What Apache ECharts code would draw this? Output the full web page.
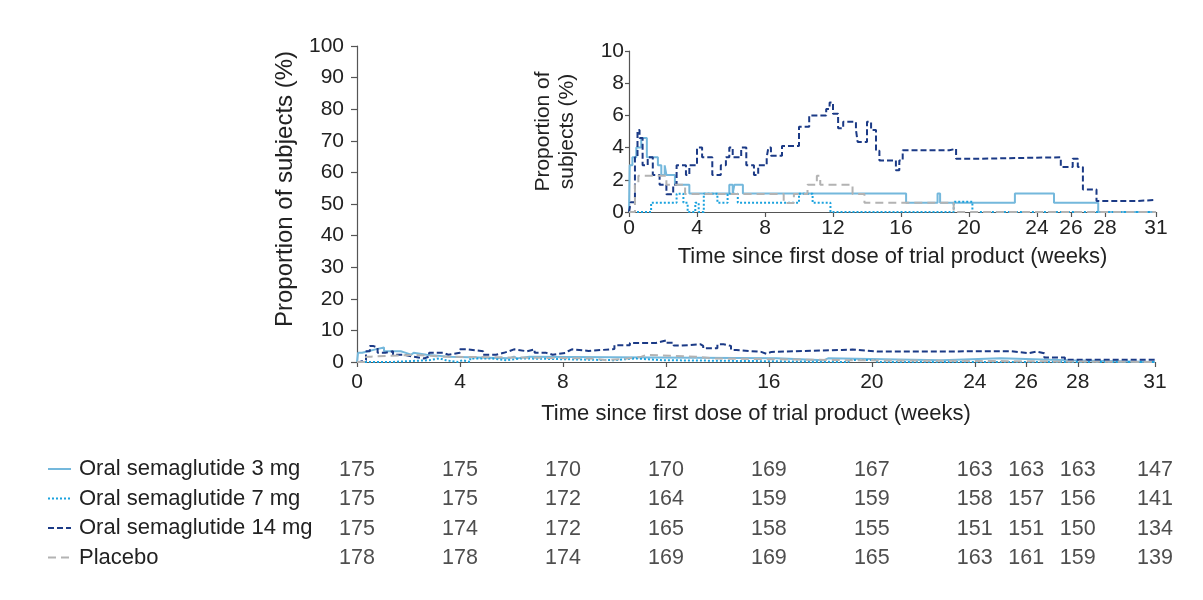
<!DOCTYPE html>
<html>
<head>
<meta charset="utf-8">
<script src="https://cdn.jsdelivr.net/npm/echarts@6/dist/echarts.min.js"></script>
<style>
html,body{margin:0;padding:0;background:#fff;}
#chart{width:1203px;height:600px;}
</style>
</head>
<body>
<div id="chart"></div>
<script>
// ---------- data ----------
const groupNames = ['Oral semaglutide 3 mg', 'Oral semaglutide 7 mg', 'Oral semaglutide 14 mg', 'Placebo'];
const xTicks = [0, 4, 8, 12, 16, 20, 24, 26, 28, 31];

// numbers at risk at each x tick
const atRisk3mg  = [175, 175, 170, 170, 169, 167, 163, 163, 163, 147];
const atRisk7mg  = [175, 175, 172, 164, 159, 159, 158, 157, 156, 141];
const atRisk14mg = [175, 174, 172, 165, 158, 155, 151, 151, 150, 134];
const atRiskPbo  = [178, 178, 174, 169, 169, 165, 163, 161, 159, 139];

// step curves: week at which a level starts, and the proportion (%)
const sema3Weeks = [0, 0.04, 0.2, 0.43, 0.72, 1.05, 1.7, 1.9, 2.1, 2.2, 2.7, 3.55, 5.9, 6.1, 6.2, 6.7, 16.3, 18.15, 18.3, 22.7, 25.0, 27.6, 31];
const sema3Pct   = [0, 2.9, 3.4, 4.0, 4.6, 3.4, 2.9, 2.3, 2.9, 2.3, 1.7, 1.15, 1.7, 1.15, 1.7, 1.15, 0.57, 1.15, 0.57, 1.15, 0.57, 0, 0];

const sema7Weeks = [0, 1.3, 2.8, 3.2, 3.45, 3.9, 4.1, 4.4, 5.2, 5.8, 6.4, 10.0, 10.8, 11.85, 19.1, 20.2, 31];
const sema7Pct   = [0, 0.57, 1.14, 0.57, 0, 0.57, 0, 1.14, 0.57, 1.14, 0.57, 1.14, 0.57, 0, 0.64, 0, 0];

const sema14Weeks = [0, 0.1, 0.35, 0.5, 0.62, 0.8, 1.1, 1.4, 1.8, 2.2, 2.6, 2.8, 3.35, 3.55, 4.0, 4.3, 4.9, 5.4, 5.7, 5.9, 6.1, 6.6, 6.9, 7.35, 7.6, 8.1, 8.2, 8.35, 9.0, 10.0, 10.6, 11.6, 11.8, 12.0, 12.3, 12.6, 13.35, 13.45, 14.0, 14.24, 14.53, 14.73, 15.7, 15.9, 16.1, 18.84, 19.24, 20.2, 25.4, 26.1, 26.4, 26.7, 27.5, 29.8, 31];
const sema14Pct   = [0, 0.6, 3.4, 5.1, 4.6, 2.9, 3.4, 2.3, 1.7, 1.1, 1.7, 2.9, 2.3, 2.9, 4.0, 3.4, 2.3, 2.9, 3.4, 4.0, 3.4, 4.0, 2.9, 2.3, 2.9, 3.4, 4.0, 3.5, 4.1, 5.3, 6.0, 6.4, 6.8, 6.1, 5.2, 5.6, 5.1, 4.35, 5.6, 5.1, 3.8, 3.2, 2.6, 3.2, 3.83, 3.93, 3.3, 3.4, 2.8, 3.3, 2.8, 1.4, 0.68, 0.75, 0.75];

const pboWeeks = [0, 0.35, 0.55, 2.2, 3.3, 9.1, 9.7, 10.5, 11.05, 11.25, 13.15, 13.85, 19.1, 31];
const pboPct   = [0, 1.7, 2.25, 1.7, 1.12, 0.56, 1.12, 1.7, 2.25, 1.7, 1.12, 0.57, 0, 0];

// ---------- build ----------
const FONT = "'Liberation Sans', Arial, sans-serif";
const TXT = '#222';
const AX = '#555';

const curves = [
  { name: groupNames[0], w: sema3Weeks,  p: sema3Pct,  color: '#74b8dc', dash: null },
  { name: groupNames[1], w: sema7Weeks,  p: sema7Pct,  color: '#1aa2de', dash: [2, 2] },
  { name: groupNames[2], w: sema14Weeks, p: sema14Pct, color: '#1b3a86', dash: [6, 3] },
  { name: groupNames[3], w: pboWeeks,    p: pboPct,    color: '#b3b3b3', dash: [8, 5] }
];
const atRiskRows = [atRisk3mg, atRisk7mg, atRisk14mg, atRiskPbo];

function pairs(w, p) { return w.map((x, i) => [x, p[i]]); }

const series = [];
[0, 1].forEach(gi => {
  curves.forEach(c => {
    series.push({
      name: c.name, type: 'line', step: 'end', xAxisIndex: gi, yAxisIndex: gi,
      symbol: 'none', silent: true, z: gi === 0 ? 2 : 3,
      lineStyle: { color: c.color, width: 2, type: c.dash || 'solid' },
      itemStyle: { color: c.color },
      data: pairs(c.w, c.p)
    });
  });
});

const tableData = [];
atRiskRows.forEach((row, r) => row.forEach((v, j) => tableData.push([xTicks[j], r, v])));
series.push({
  type: 'scatter', xAxisIndex: 2, yAxisIndex: 2, symbolSize: 1, silent: true,
  itemStyle: { color: 'rgba(0,0,0,0)' },
  label: { show: true, position: 'inside', formatter: p => String(p.value[2]),
           fontFamily: FONT, fontSize: 21.5, color: TXT },
  data: tableData
});

function xAxisCfg(gridIndex, name, labelMargin, nameGap) {
  return {
    type: 'value', gridIndex, min: 0, max: 31, name, nameLocation: 'middle', nameGap,
    nameTextStyle: { fontFamily: FONT, fontSize: 22, color: TXT },
    axisLine: { show: true, onZero: false, lineStyle: { color: AX, width: 1.2 } },
    axisTick: { show: true, length: 5, customValues: xTicks, lineStyle: { color: AX, width: 1.2 } },
    axisLabel: { customValues: xTicks, margin: labelMargin, fontFamily: FONT, fontSize: 21, color: TXT, hideOverlap: false },
    splitLine: { show: false }
  };
}

const option = {
  animation: false,
  backgroundColor: '#fff',
  textStyle: { fontFamily: FONT },
  grid: [
    { left: 357, right: 48, top: 46, height: 316, containLabel: false },
    { left: 629, right: 47, top: 51, height: 161, containLabel: false },
    { left: 357, right: 48, top: 455, height: 118, containLabel: false }
  ],
  legend: {
    data: groupNames, orient: 'vertical', left: 42, top: 453,
    itemWidth: 23, itemHeight: 14, itemGap: 7.5,
    itemStyle: { opacity: 0 },
    textStyle: { fontFamily: FONT, fontSize: 22, color: TXT, lineHeight: 22, padding: [0, 0, 0, 3] },
    selectedMode: false
  },
  xAxis: [
    xAxisCfg(0, 'Time since first dose of trial product (weeks)', 10, 41),
    xAxisCfg(1, 'Time since first dose of trial product (weeks)', 6, 34),
    { type: 'value', gridIndex: 2, min: 0, max: 31, show: false }
  ],
  yAxis: [
    {
      type: 'value', gridIndex: 0, min: 0, max: 100, interval: 10,
      name: 'Proportion of subjects (%)', nameLocation: 'middle', nameGap: 60,
      nameTextStyle: { fontFamily: FONT, fontSize: 24, color: TXT, padding: [0, 0, 0, 30] },
      axisLine: { show: true, lineStyle: { color: AX, width: 1.2 } },
      axisTick: { show: true, length: 6, lineStyle: { color: AX, width: 1.2 } },
      axisLabel: { margin: 13, fontFamily: FONT, fontSize: 21, color: TXT },
      splitLine: { show: false }
    },
    {
      type: 'value', gridIndex: 1, min: 0, max: 10, interval: 2,
      name: 'Proportion of\nsubjects (%)', nameLocation: 'middle', nameGap: 50,
      nameTextStyle: { fontFamily: FONT, fontSize: 21, color: TXT, lineHeight: 24 },
      axisLine: { show: true, lineStyle: { color: AX, width: 1.2 } },
      axisTick: { show: true, length: 4, lineStyle: { color: AX, width: 1.2 } },
      axisLabel: { margin: 5, fontFamily: FONT, fontSize: 21, color: TXT },
      splitLine: { show: false }
    },
    { type: 'category', gridIndex: 2, data: groupNames, inverse: true, show: false }
  ],
  series
};

const chart = echarts.init(document.getElementById('chart'), null, { renderer: 'canvas' });
chart.setOption(option);
</script>
</body>
</html>
